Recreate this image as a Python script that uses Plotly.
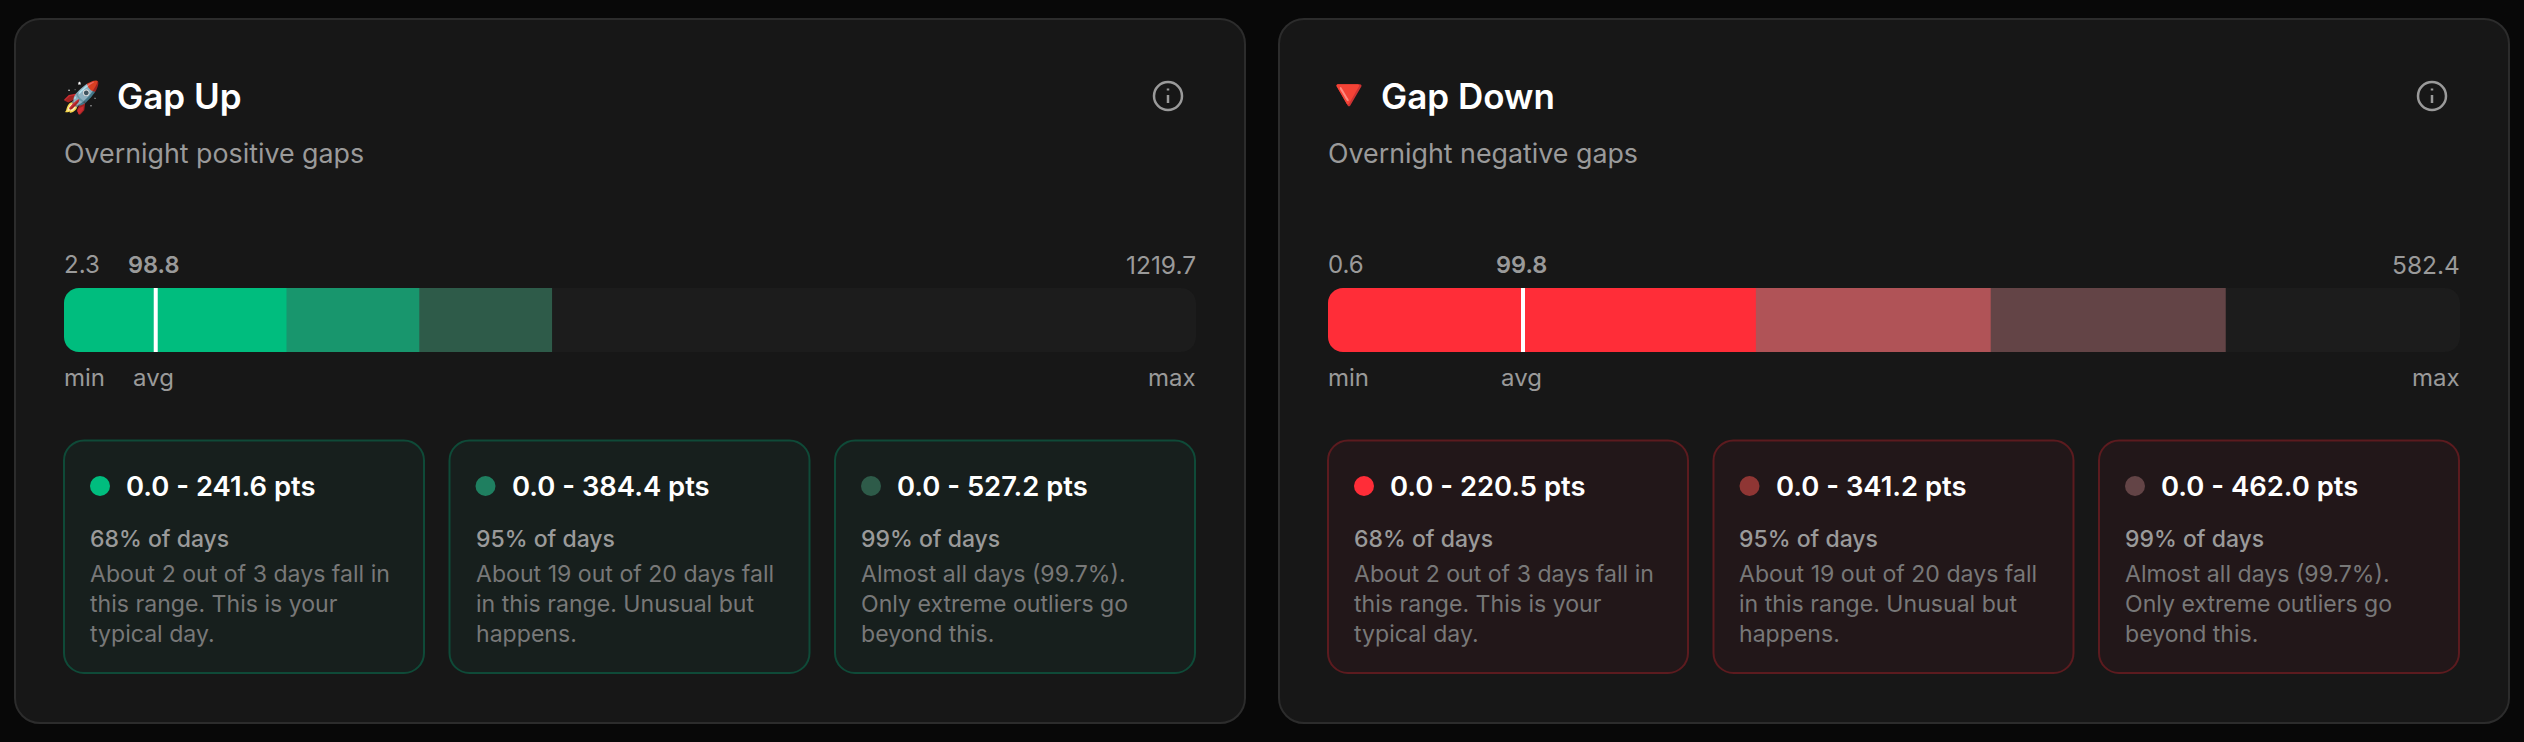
import plotly.graph_objects as go

W = 2524
H = 742
FONT = "Inter"

# values
titles = ["Gap Up", "Gap Down"]
icons = ["🚀", "🔻"]
subtitles = ["Overnight positive gaps", "Overnight negative gaps"]
min_vals = [2.3, 0.6]
avg_vals = [98.8, 99.8]
max_vals = [1219.7, 582.4]
range_lo = [0.0, 0.0, 0.0]
up_hi = [241.6, 384.4, 527.2]
down_hi = [220.5, 341.2, 462.0]
pct_labels = ["68% of days", "95% of days", "99% of days"]
desc_lines = [
    ["About 2 out of 3 days fall in", "this range. This is your", "typical day."],
    ["About 19 out of 20 days fall", "in this range. Unusual but", "happens."],
    ["Almost all days (99.7%).", "Only extreme outliers go", "beyond this."],
]

# colours for the two panels
seg_colors = [["#00BD7E", "#18966D", "#2E5B49"], ["#FF2D38", "#B05357", "#634446"]]
dot_colors = [["#00BD7E", "#1F7F60", "#2E5B49"], ["#FF2D38", "#8F3634", "#634446"]]
box_fill = ["#171F1D", "#221719"]
box_line = ["#0F4A38", "#5C1B1F"]

CARD_BG = "#171717"
CARD_LINE = "#2C2C2C"
TRACK = "#1C1C1C"
GREY = "#9A9A9A"
GREY2 = "#787878"

card_x = [15, 1279]
bar_x = [64, 1328]
BAR_W = 1132
BAR_TOP = 288
BAR_BOT = 352
BAR_R = 15


def px(x):
    return x / W


def py(y):
    return 1 - y / H


def round_rect(x0, y0, x1, y1, r):
    k = r * 0.448
    p = f"M {px(x0 + r)} {py(y0)} L {px(x1 - r)} {py(y0)} "
    p += f"C {px(x1 - k)} {py(y0)} {px(x1)} {py(y0 + k)} {px(x1)} {py(y0 + r)} "
    p += f"L {px(x1)} {py(y1 - r)} "
    p += f"C {px(x1)} {py(y1 - k)} {px(x1 - k)} {py(y1)} {px(x1 - r)} {py(y1)} "
    p += f"L {px(x0 + r)} {py(y1)} "
    p += f"C {px(x0 + k)} {py(y1)} {px(x0)} {py(y1 - k)} {px(x0)} {py(y1 - r)} "
    p += f"L {px(x0)} {py(y0 + r)} "
    p += f"C {px(x0)} {py(y0 + k)} {px(x0 + k)} {py(y0)} {px(x0 + r)} {py(y0)} Z"
    return p


def corner_mask(x, y, r, sx, sy):
    # fills the square corner of the bar outside the rounded edge
    k = r * 0.552
    p = f"M {px(x)} {py(y)} L {px(x + sx * r)} {py(y)} "
    p += f"C {px(x + sx * (r - k))} {py(y)} {px(x)} {py(y + sy * (r - k))} {px(x)} {py(y + sy * r)} Z"
    return p


fig = go.Figure()
shapes = []
notes = []


def txt(x, y, s, size, color, weight=400, anchor="left", xref="paper"):
    notes.append(dict(
        x=x if xref != "paper" else px(x), y=py(y), xref=xref, yref="paper",
        text=s, showarrow=False, xanchor=anchor, yanchor="middle", borderpad=0, borderwidth=0,
        font=dict(family=FONT, size=size, color=color, weight=weight),
    ))


def path_shape(path, fill, line=None, width=0, layer="below"):
    shapes.append(dict(type="path", xref="paper", yref="paper", path=path, fillcolor=fill,
                       line=dict(color=line or fill, width=width), layer=layer))


for i in range(2):
    hi_vals = up_hi if i == 0 else down_hi
    x0 = bar_x[i]
    xname = "x" if i == 0 else "x2"
    yname = "y" if i == 0 else "y2"

    path_shape(round_rect(card_x[i], 19, card_x[i] + 1230, 723, 25), CARD_BG, CARD_LINE, 2)
    path_shape(round_rect(x0, BAR_TOP, x0 + BAR_W, BAR_BOT, BAR_R), TRACK)

    # widest first so the narrower ranges sit on top
    for j in [2, 1, 0]:
        fig.add_trace(go.Bar(
            x=[hi_vals[j] - min_vals[i]], y=[0.5], width=1, orientation="h", base=min_vals[i],
            marker=dict(color=seg_colors[i][j], line=dict(width=0)),
            xaxis=xname, yaxis=yname, showlegend=False, hoverinfo="skip",
        ))
    # avg marker starts at the value and is 4px wide
    shapes.append(dict(type="rect", xref=xname, yref="paper", xsizemode="pixel", xanchor=avg_vals[i],
                       x0=0, x1=4, y0=py(BAR_BOT), y1=py(BAR_TOP), fillcolor="#FFFFFF",
                       line=dict(width=0), layer="above"))

    # only the left end of the coloured bar needs its corners cut
    path_shape(corner_mask(x0, BAR_TOP, BAR_R, 1, 1), CARD_BG, layer="above")
    path_shape(corner_mask(x0, BAR_BOT, BAR_R, 1, -1), CARD_BG, layer="above")

    txt(x0 + 52.5, 96, titles[i], 35, "#FFFFFF", 600)
    if i == 0:
        txt(x0 - 2, 96, icons[i], 31, "#FF3B30")
    else:
        txt(x0 - 6, 94, icons[i], 43, "#F4332F")
    txt(x0, 152.5, subtitles[i], 26.8, GREY)

    txt(x0, 264.5, f"{min_vals[i]}", 24, GREY)
    txt(avg_vals[i], 264.5, f"{avg_vals[i]}", 23.5, GREY, 600, "center", xname)
    txt(x0 + BAR_W, 264.5, f"{max_vals[i]}", 24.5, GREY, 400, "right")
    txt(x0, 377.5, "min", 24, GREY)
    txt(avg_vals[i], 377.5, "avg", 24, GREY, 400, "center", xname)
    txt(x0 + BAR_W, 377.5, "max", 24, GREY, 400, "right")

    # info icon
    cx = x0 + 1104
    shapes.append(dict(type="circle", xref="paper", yref="paper", x0=px(cx - 14), x1=px(cx + 14),
                       y0=py(110), y1=py(82), line=dict(color=GREY, width=2.5), layer="above"))
    path_shape(f"M {px(cx)} {py(95)} L {px(cx)} {py(103)}", "rgba(0,0,0,0)", GREY, 2.5, "above")
    path_shape(f"M {px(cx)} {py(88.5)} L {px(cx)} {py(90.5)}", "rgba(0,0,0,0)", GREY, 2.5, "above")

    # the three range boxes
    for j in range(3):
        bx = x0 + j * 385.5
        path_shape(round_rect(bx, 440.5, bx + 360, 673, 20), box_fill[i], box_line[i], 2)
        shapes.append(dict(type="circle", xref="paper", yref="paper", x0=px(bx + 26), x1=px(bx + 46),
                           y0=py(496), y1=py(476), fillcolor=dot_colors[i][j], line=dict(width=0),
                           layer="above"))
        txt(bx + 62, 486, f"{range_lo[j]:.1f} - {hi_vals[j]:.1f} pts", 27.4, "#FFFFFF", 600)
        txt(bx + 26, 538.5, pct_labels[j], 23, GREY, 500)
        for n, line in enumerate(desc_lines[j]):
            txt(bx + 26, 574 + n * 30, line, 23.1, GREY2)

axis_off = dict(visible=False, fixedrange=True)
fig.update_layout(
    width=W, height=H, margin=dict(l=0, r=0, t=0, b=0), autosize=False,
    paper_bgcolor="#080808", plot_bgcolor="rgba(0,0,0,0)",
    barmode="overlay", showlegend=False, shapes=shapes, annotations=notes,
    xaxis=dict(domain=[px(bar_x[0]), px(bar_x[0] + BAR_W)], range=[min_vals[0], max_vals[0]], **axis_off),
    yaxis=dict(domain=[py(BAR_BOT), py(BAR_TOP)], range=[0, 1], **axis_off),
    xaxis2=dict(domain=[px(bar_x[1]), px(bar_x[1] + BAR_W)], range=[min_vals[1], max_vals[1]], anchor="y2", **axis_off),
    yaxis2=dict(domain=[py(BAR_BOT), py(BAR_TOP)], range=[0, 1], anchor="x2", **axis_off),
)

fig.write_html(
    "out.html",
    config=dict(displayModeBar=False),
    post_script="document.body.style.margin='0';document.body.style.background='#080808';document.body.style.overflow='hidden';",
)
